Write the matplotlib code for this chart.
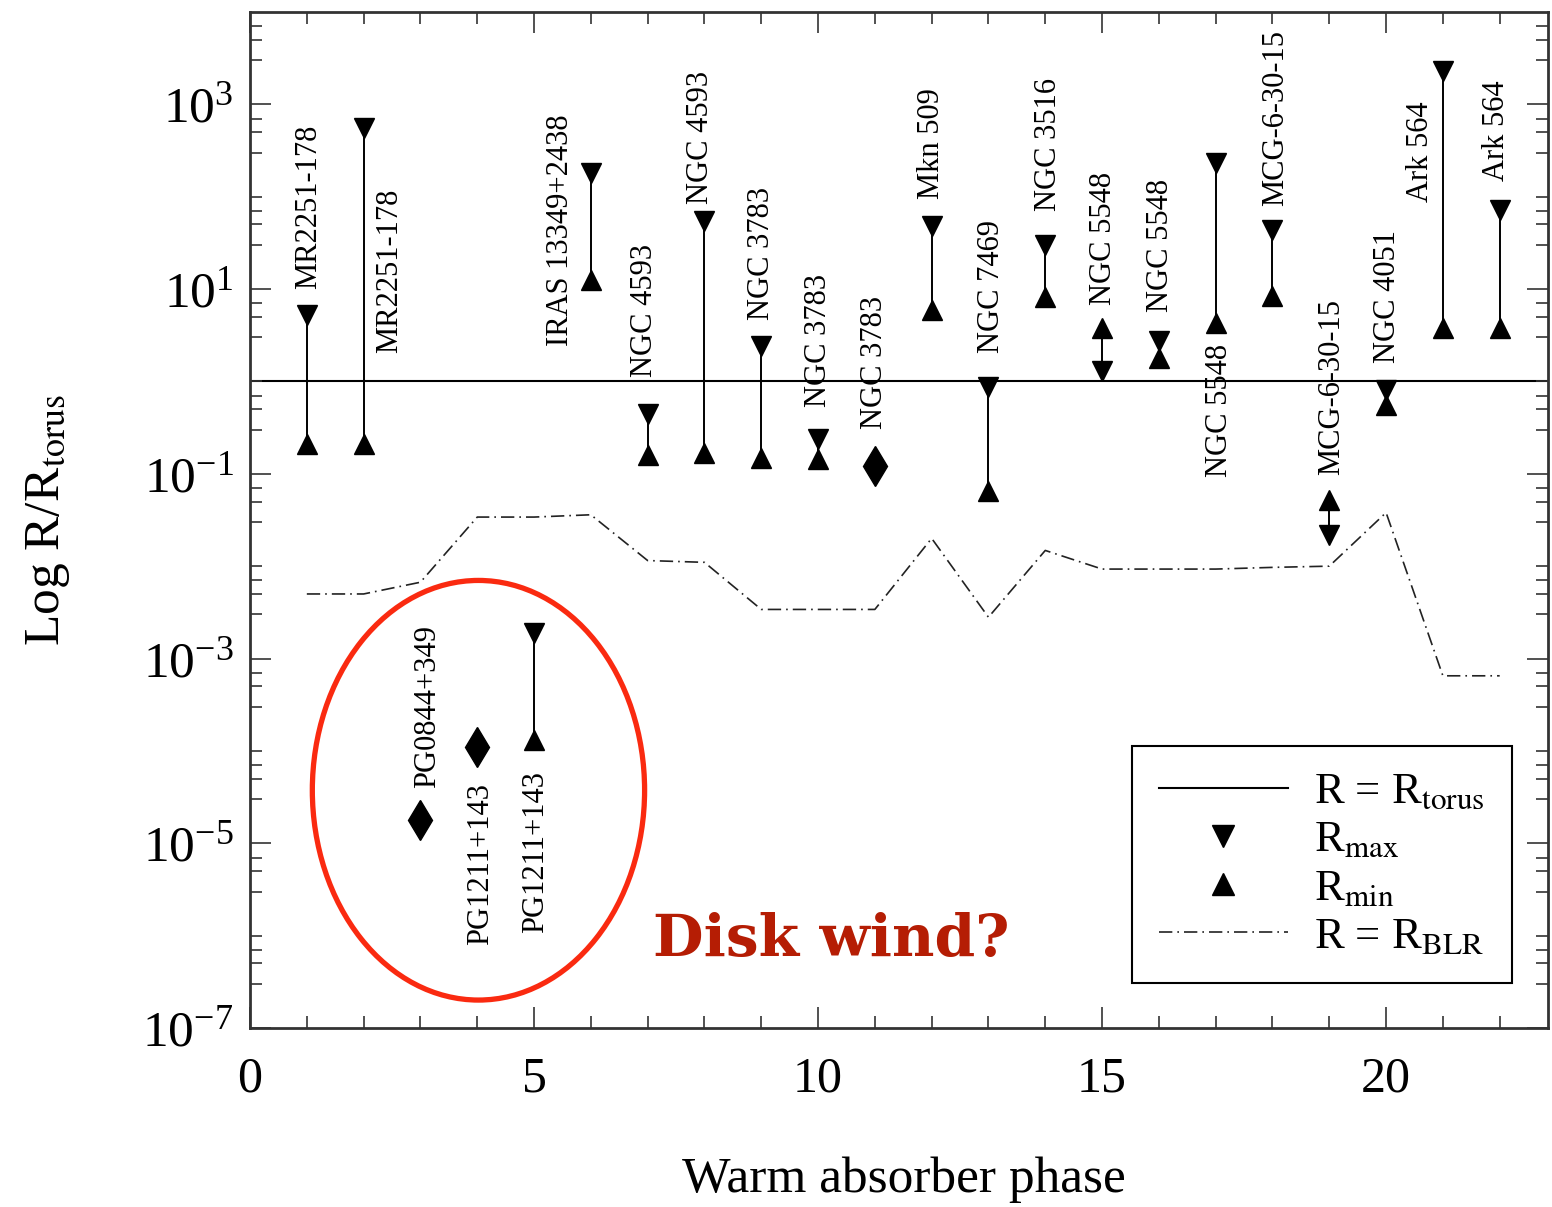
import numpy as np
import matplotlib
matplotlib.use('Agg')
import matplotlib.pyplot as plt
from matplotlib.patches import Ellipse
from matplotlib.lines import Line2D
from matplotlib.ticker import FixedLocator, LogFormatterMathtext, NullFormatter, MultipleLocator

plt.rcParams['font.family'] = ['Liberation Serif', 'DejaVu Serif']
plt.rcParams['mathtext.fontset'] = 'stix'
plt.rcParams['axes.unicode_minus'] = False

# warm absorber phases and radius limits (R / R_torus)
phase = np.arange(1, 23)
r_max = [5.3, 560, np.nan, np.nan, 1.9e-3, 182, 0.44, 54, 2.4, 0.24, np.nan,
         48, 0.87, 30, 1.3, 2.75, 234, 44, 0.022, 0.81, 2300, 72]
r_min = [0.21, 0.21, np.nan, np.nan, 1.3e-4, 12.6, 0.16, 0.17, 0.15, 0.145, np.nan,
         5.9, 0.065, 8.3, 3.8, 1.8, 4.3, 8.5, 0.052, 0.55, 3.8, 3.8]
point_phase = [3, 4, 11]
point_val = [1.8e-5, 1.1e-4, 0.12]
r_blr = [5e-3, 5e-3, 6.7e-3, 0.034, 0.034, 0.036, 0.0115, 0.011, 3.4e-3, 3.4e-3, 3.4e-3,
         0.020, 2.8e-3, 0.0148, 9.3e-3, 9.3e-3, 9.3e-3, 9.7e-3, 0.010, 0.038, 6.5e-4, 6.5e-4]

names = ["MR2251-178", "MR2251-178", "PG0844+349", "PG1211+143", "PG1211+143",
         "IRAS 13349+2438", "NGC 4593", "NGC 4593", "NGC 3783", "NGC 3783", "NGC 3783",
         "Mkn 509", "NGC 7469", "NGC 3516", "NGC 5548", "NGC 5548", "NGC 5548",
         "MCG-6-30-15", "MCG-6-30-15", "NGC 4051", "Ark 564", "Ark 564"]
# where each name starts (x, log10 y)
name_x = [1.04, 2.45, 3.13, 4.05, 5.02, 5.46, 6.95, 7.93, 9.0, 10.0, 11.0, 12.0,
          13.05, 14.05, 15.02, 16.02, 17.06, 18.05, 19.05, 20.03, 20.6, 21.94]
name_logy = [1.0, 0.31, -4.4, -6.1, -5.97, 0.38, 0.05, 1.92, 0.67, -0.28, -0.52, 1.97,
             0.31, 1.84, 0.83, 0.75, -1.04, 1.9, -1.01, 0.2, 1.94, 2.17]

fig = plt.figure(figsize=(15.52, 12.07), dpi=100)
ax = fig.add_axes([0.1611, 0.1483, 0.8363, 0.8418])

blr_dash = (8, 3, 1, 3)

for x, hi, lo in zip(phase, r_max, r_min):
    if np.isnan(hi):
        continue
    ax.plot([x, x], [lo, hi], color='k', lw=1.4, zorder=2)
ax.plot(phase, r_max, marker='v', ls='none', ms=15, color='k', zorder=3)
ax.plot(phase, r_min, marker='^', ls='none', ms=15, color='k', zorder=3)
ax.plot(point_phase, point_val, marker='d', ls='none', ms=20, color='k', zorder=3)
ax.axhline(1.0, color='k', lw=1.5, zorder=1)
ax.plot(phase, r_blr, color='#222222', lw=1.2, dashes=blr_dash, zorder=1)

for nm, nx, ny in zip(names, name_x, name_logy):
    ax.text(nx, 10.0 ** ny, nm, rotation=90, ha='center', va='bottom', fontsize=22)

ax.set_yscale('log')
ax.set_ylim(1e-7, 1e4)
ax.set_xlim(0, 22.85)

ax.set_yticks([10.0 ** k for k in range(-7, 4, 2)])
minor = [m * 10.0 ** k for k in range(-7, 4) for m in (1, 3, 5, 7)
         if not (m == 1 and k % 2 == 1)]
ax.yaxis.set_minor_locator(FixedLocator(minor))
ax.yaxis.set_major_formatter(LogFormatterMathtext())
ax.yaxis.set_minor_formatter(NullFormatter())
ax.set_xticks([0, 5, 10, 15, 20])
ax.xaxis.set_minor_locator(MultipleLocator(1))

ax.tick_params(which='both', direction='in', top=True, right=True, width=1.2, color='#333333')
ax.tick_params(which='major', length=15)
ax.tick_params(which='minor', length=8.5)
ax.tick_params(axis='x', labelsize=36, pad=20)
ax.tick_params(axis='y', labelsize=37, pad=12)
for sp in ax.spines.values():
    sp.set_linewidth(2)
    sp.set_color('#333333')

fig.text(904 / 1552, 1 - 1180 / 1207, 'Warm absorber phase', fontsize=37, ha='center', va='center')
fig.text(48 / 1552, 1 - 520 / 1207, r'Log R/R$_{\rm torus}$', fontsize=37, rotation=90,
         ha='center', va='center')

handles = [Line2D([], [], color='k', lw=1.5),
           Line2D([], [], marker='v', ls='none', color='k', ms=16),
           Line2D([], [], marker='^', ls='none', color='k', ms=16),
           Line2D([], [], color='#222222', lw=1.2, dashes=blr_dash)]
labels = [r'R = R$_{\rm torus}$', r'R$_{\rm max}$', r'R$_{\rm min}$', r'R = R$_{\rm BLR}$']
leg = ax.legend(handles, labels, loc='lower right', bbox_to_anchor=(0.972, 0.044),
                fontsize=32, frameon=True, fancybox=False, edgecolor='k', framealpha=1,
                handlelength=2.9, handletextpad=0.6, borderpad=0.6, labelspacing=0.18,
                borderaxespad=0)
leg.get_frame().set_linewidth(1.5)

ell = Ellipse((0.176, 0.234), 0.256, 0.413, transform=ax.transAxes, fill=False,
              edgecolor='#fa2a10', lw=3.8, zorder=5)
ax.add_patch(ell)
ax.text(0.448, 0.087, 'Disk wind?', transform=ax.transAxes, fontsize=42, fontweight='bold',
        family='DejaVu Serif', color='#b51d04', ha='center', va='center')

fig.savefig('out.png', dpi=100)
